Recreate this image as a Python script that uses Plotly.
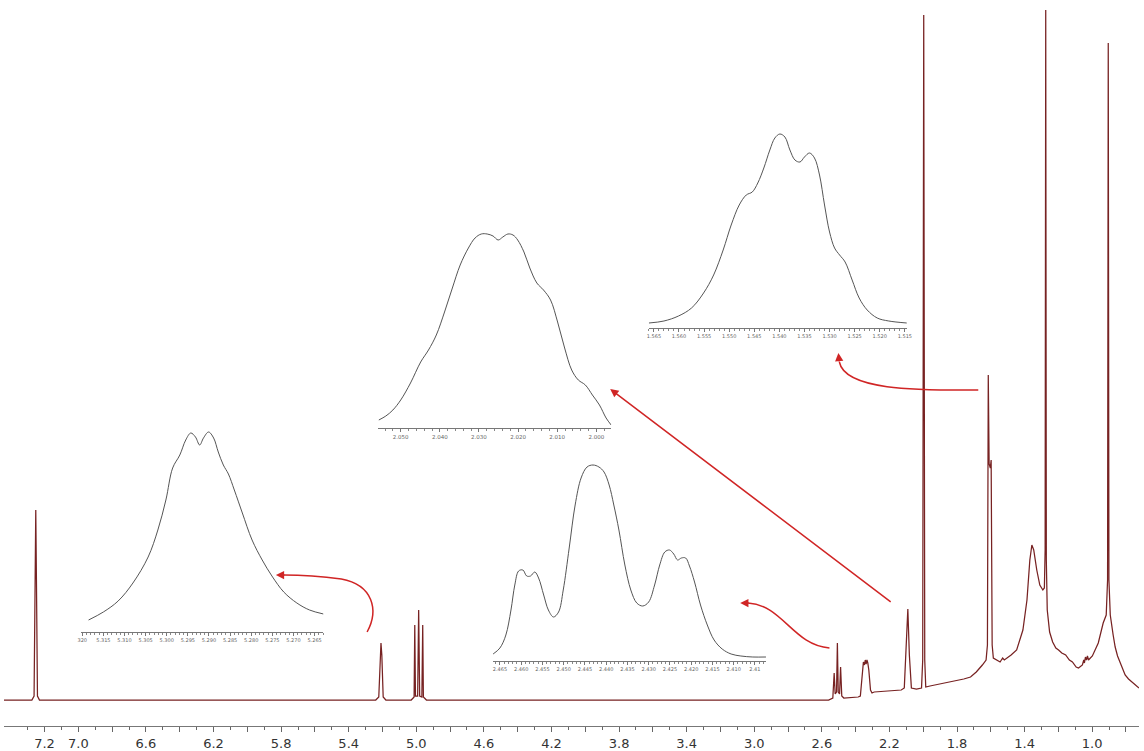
import plotly.graph_objects as go

# ---------------- main 1H spectrum (ppm, intensity) ----------------
main_ppm = [
    7.440, 7.275, 7.262, 7.256, 7.252, 7.248, 7.242, 7.230,
    5.240, 5.222, 5.214, 5.209, 5.204, 5.196, 5.180,
    5.030, 5.013, 5.009, 5.005, 4.992, 4.986, 4.980, 4.967, 4.962, 4.958, 4.940,
    2.560, 2.535, 2.527, 2.521, 2.513, 2.508, 2.503, 2.495, 2.489, 2.482, 2.470,
    2.385, 2.372, 2.360, 2.354, 2.348, 2.343, 2.338, 2.333, 2.328, 2.322, 2.312, 2.303, 2.290,
    2.200, 2.130, 2.112, 2.100, 2.091, 2.082, 2.070, 2.040,
    2.010, 2.003, 1.997, 1.991, 1.985, 1.960, 1.900, 1.800, 1.760, 1.720, 1.686, 1.650, 1.635,
    1.628, 1.620, 1.615, 1.610, 1.603, 1.598, 1.592, 1.585, 1.560, 1.545, 1.530, 1.520,
    1.480, 1.447, 1.410, 1.386, 1.369, 1.357, 1.346, 1.328, 1.310, 1.292, 1.283,
    1.2785, 1.275, 1.2715, 1.266, 1.252, 1.234, 1.215, 1.199, 1.180, 1.157, 1.135, 1.117,
    1.095, 1.081, 1.068, 1.058, 1.050, 1.046, 1.040, 1.034, 1.028, 1.022,
    0.999, 0.964, 0.935, 0.917, 0.909, 0.905, 0.901, 0.893, 0.876,
    0.864, 0.850, 0.836, 0.805, 0.785, 0.764, 0.723,
]
main_int = [
    0, 0, 4, 120, 190, 120, 4, 0,
    0, 3, 45, 57, 45, 3, 0,
    0, 3, 75, 4, 4, 90, 4, 3, 75, 3, 0,
    0, 2, 27, 6, 8, 57, 8, 6, 33, 4, 2,
    3, 4, 30, 38, 35, 40, 36, 40, 37, 30, 10, 7, 8,
    9, 10, 12, 50, 91, 45, 12, 11,
    12, 40, 685, 40, 13, 14, 16, 19, 21, 23, 28, 35, 38,
    40, 55, 325, 236, 232, 240, 55, 42, 40, 38, 42, 40,
    45, 50, 70, 100, 140, 155, 150, 130, 115, 110, 112,
    150, 690, 140, 90, 68, 58, 52, 50, 47, 45, 40, 38,
    33, 32, 34, 35, 40, 37, 43, 40, 44, 40,
    44, 57, 77, 85, 120, 657, 120, 85, 65,
    53, 44, 38, 25, 21, 18, 12,
]

main_tick_vals = [7.2, 7.0, 6.8, 6.6, 6.4, 6.2, 6.0, 5.8, 5.6, 5.4, 5.2, 5.0, 4.8,
                  4.6, 4.4, 4.2, 4.0, 3.8, 3.6, 3.4, 3.2, 3.0, 2.8, 2.6, 2.4, 2.2,
                  2.0, 1.8, 1.6, 1.4, 1.2, 1.0, 0.8]
main_tick_text = ["7.2", "7.0", "", "6.6", "", "6.2", "", "5.8", "", "5.4", "", "5.0", "",
                  "4.6", "", "4.2", "", "3.8", "", "3.4", "", "3.0", "", "2.6", "", "2.2",
                  "", "1.8", "", "1.4", "", "1.0", ""]

# ---------------- expanded multiplets ----------------
ins1_ppm = [5.3185, 5.3150, 5.3115, 5.3080, 5.3044, 5.3021, 5.3002, 5.2986, 5.2969,
            5.2955, 5.2943, 5.2932, 5.2922, 5.2913, 5.2901, 5.2889, 5.2878, 5.2866,
            5.2854, 5.2840, 5.2821, 5.2798, 5.2774, 5.2751, 5.2723, 5.2692, 5.2662, 5.2629]
ins1_int = [12, 20, 31, 49, 75, 102, 132, 164, 177, 192, 199, 195, 187, 194, 200, 194,
            180, 167, 158, 142, 119, 92, 72, 56, 40, 29, 22, 18]
ins1_ticks = [5.320, 5.315, 5.310, 5.305, 5.300, 5.295, 5.290, 5.285, 5.280, 5.275, 5.270, 5.265]
ins1_labels = ["320", "5.315", "5.310", "5.305", "5.300", "5.295", "5.290", "5.285",
               "5.280", "5.275", "5.270", "5.265"]

ins2_ppm = [2.4666, 2.4650, 2.4636, 2.4624, 2.4615, 2.4606, 2.4596, 2.4587, 2.4578,
            2.4568, 2.4559, 2.4547, 2.4536, 2.4524, 2.4512, 2.4501, 2.4487, 2.4473,
            2.4459, 2.4445, 2.4431, 2.4417, 2.4405, 2.4393, 2.4382, 2.4370, 2.4356,
            2.4342, 2.4328, 2.4314, 2.4300, 2.4286, 2.4274, 2.4262, 2.4251, 2.4241,
            2.4232, 2.4223, 2.4213, 2.4204, 2.4192, 2.4178, 2.4162, 2.4146, 2.4127,
            2.4106, 2.4083, 2.4055, 2.4024]
ins2_int = [7, 13, 26, 51, 76, 90, 91, 85, 85, 89, 83, 66, 51, 44, 49, 71, 113, 156,
            183, 194, 196, 194, 189, 176, 156, 131, 96, 71, 58, 55, 59, 76, 96, 109,
            111, 107, 101, 103, 103, 95, 79, 56, 36, 21, 12, 7, 5, 4, 4]
ins2_ticks = [2.465, 2.460, 2.455, 2.450, 2.445, 2.440, 2.435, 2.430, 2.425, 2.420,
              2.415, 2.410, 2.405]
ins2_labels = ["2.465", "2.460", "2.455", "2.450", "2.445", "2.440", "2.435", "2.430",
               "2.425", "2.420", "2.415", "2.410", "2.41"]

ins3_ppm = [2.0556, 2.0538, 2.0520, 2.0500, 2.0475, 2.0449, 2.0429, 2.0409, 2.0388,
            2.0368, 2.0348, 2.0327, 2.0310, 2.0294, 2.0279, 2.0264, 2.0251, 2.0239,
            2.0226, 2.0213, 2.0201, 2.0185, 2.0170, 2.0152, 2.0135, 2.0117, 2.0099,
            2.0081, 2.0063, 2.0046, 2.0028, 2.0010, 1.9992, 1.9975, 1.9962]
ins3_int = [8, 12, 18, 28, 45, 66, 78, 93, 116, 140, 163, 180, 190, 194, 194, 192, 188,
            191, 194, 193, 188, 176, 160, 145, 138, 128, 106, 80, 58, 48, 43, 33, 23, 10, 3]
ins3_ticks = [2.050, 2.040, 2.030, 2.020, 2.010, 2.000]
ins3_labels = ["2.050", "2.040", "2.030", "2.020", "2.010", "2.000"]

ins4_ppm = [1.5660, 1.5630, 1.5601, 1.5575, 1.5551, 1.5531, 1.5512, 1.5496, 1.5480,
            1.5466, 1.5454, 1.5443, 1.5431, 1.5419, 1.5409, 1.5399, 1.5389, 1.5379,
            1.5369, 1.5359, 1.5350, 1.5340, 1.5330, 1.5320, 1.5310, 1.5300, 1.5290,
            1.5280, 1.5269, 1.5255, 1.5241, 1.5225, 1.5205, 1.5182, 1.5146]
ins4_int = [5, 7, 12, 20, 35, 53, 78, 103, 123, 133, 136, 145, 160, 178, 190, 194, 191,
            178, 168, 166, 171, 175, 170, 153, 123, 96, 80, 73, 66, 48, 30, 18, 10, 7, 5]
ins4_ticks = [1.565, 1.560, 1.555, 1.550, 1.545, 1.540, 1.535, 1.530, 1.525, 1.520, 1.515]
ins4_labels = ["1.565", "1.560", "1.555", "1.550", "1.545", "1.540", "1.535", "1.530",
               "1.525", "1.520", "1.515"]

# ---------------- page geometry ----------------
W, H, BOTTOM = 1144, 751, 25
PLOT_H = H - BOTTOM

SPEC_COLOR = "#772222"
INSET_COLOR = "#555555"
ARROW_COLOR = "#d02525"


def pp(px, py):
    """page pixel position -> paper coordinates string for SVG paths"""
    return f"{px / W:.5f},{(PLOT_H - py) / PLOT_H:.5f}"


def pxd(px0, px1):
    return [px0 / W, px1 / W]


def pyd(py_axis, py_top):
    return [(PLOT_H - py_axis) / PLOT_H, (PLOT_H - py_top) / PLOT_H]


fig = go.Figure()
fig.add_trace(go.Scatter(x=main_ppm, y=main_int, mode="lines",
                         line=dict(color=SPEC_COLOR, width=1.25),
                         xaxis="x", yaxis="y", hoverinfo="skip"))

insets = [
    (ins1_ppm, ins1_int, "2"),
    (ins2_ppm, ins2_int, "3"),
    (ins3_ppm, ins3_int, "4"),
    (ins4_ppm, ins4_int, "5"),
]
for xs, ys, k in insets:
    fig.add_trace(go.Scatter(x=xs, y=ys, mode="lines", line_shape="spline",
                             line=dict(color=INSET_COLOR, width=1),
                             xaxis="x" + k, yaxis="y" + k, hoverinfo="skip"))


def inset_x(domain, rng, ticks, labels, minor_step, anchor, fsize=5):
    n = int(round(abs(rng[0] - rng[1]) / minor_step)) + 2
    start = min(rng)
    minor_vals = [round(start - start % minor_step + i * minor_step, 4) for i in range(n)]
    return dict(domain=domain, range=rng, anchor=anchor, tickmode="array",
                tickvals=ticks, ticktext=labels, ticks="outside", ticklen=3,
                tickcolor="#777", tickwidth=1, showline=True, linecolor="#777",
                linewidth=1, showgrid=False, zeroline=False,
                tickfont=dict(family="DejaVu Sans", size=fsize, color="#666"),
                minor=dict(tickmode="array", tickvals=minor_vals, ticks="outside",
                           ticklen=2, tickcolor="#888", showgrid=False))


def inset_y(domain, anchor):
    return dict(domain=domain, range=[0, 220], anchor=anchor, visible=False,
                showgrid=False, zeroline=False)


main_minor = [round(7.4 - 0.2 * i, 1) for i in range(34)]

fig.update_layout(
    width=W, height=H,
    margin=dict(l=0, r=0, t=0, b=BOTTOM),
    paper_bgcolor="white", plot_bgcolor="white",
    showlegend=False,
    xaxis=dict(domain=[0, 1], range=[7.44, 0.723], anchor="y", tickmode="array",
               tickvals=main_tick_vals, ticktext=main_tick_text, ticks="outside",
               ticklen=5, tickcolor="#666", tickwidth=1, showline=True,
               linecolor="#777", linewidth=1, showgrid=False, zeroline=False,
               tickfont=dict(family="DejaVu Sans", size=13, color="#333"),
               minor=dict(tickmode="array", tickvals=[v + 0.1 for v in main_minor],
                          ticks="outside", ticklen=3, tickcolor="#666", showgrid=False)),
    yaxis=dict(domain=[0, 1], range=[-26, 700], visible=False, showgrid=False,
               zeroline=False),
    xaxis2=inset_x(pxd(78, 322), [5.3202, 5.2629], ins1_ticks, ins1_labels, 0.001, "y2"),
    yaxis2=inset_y(pyd(632, 412), "x2"),
    xaxis3=inset_x(pxd(493, 768), [2.4666, 2.4024], ins2_ticks, ins2_labels, 0.001, "y3"),
    yaxis3=inset_y(pyd(661, 441), "x3"),
    xaxis4=inset_x(pxd(377, 612), [2.0558, 1.9962], ins3_ticks, ins3_labels, 0.002, "y4", 5.5),
    yaxis4=inset_y(pyd(428, 208), "x4"),
    xaxis5=inset_x(pxd(650, 910), [1.5660, 1.5146], ins4_ticks, ins4_labels, 0.001, "y5"),
    yaxis5=inset_y(pyd(328, 108), "x5"),
)

# red arrows linking each multiplet to its expansion
arrow_paths = [
    f"M {pp(366, 632)} C {pp(378, 610)} {pp(372, 585)} {pp(340, 579)} Q {pp(310, 575)} {pp(282, 575)}",
    f"M {pp(832, 648)} C {pp(795, 645)} {pp(785, 605)} {pp(750, 603)}",
    f"M {pp(982, 390)} C {pp(930, 390)} {pp(848, 392)} {pp(842, 362)}",
]
for path in arrow_paths:
    fig.add_shape(type="path", path=path, xref="paper", yref="paper",
                  line=dict(color=ARROW_COLOR, width=1.5))

heads = [
    (274, 575, 10, 0),
    (742, 603, 10, 0),
    (841, 353, 1, 10),
    (611, 389, 282, 214),
]
for hx, hy, ax, ay in heads:
    fig.add_annotation(x=hx / W, y=(PLOT_H - hy) / PLOT_H, xref="paper", yref="paper",
                       ax=ax, ay=ay, showarrow=True, arrowhead=2, arrowsize=1.1,
                       arrowwidth=1.5, arrowcolor=ARROW_COLOR, text="")

fig.write_html("out.html")
